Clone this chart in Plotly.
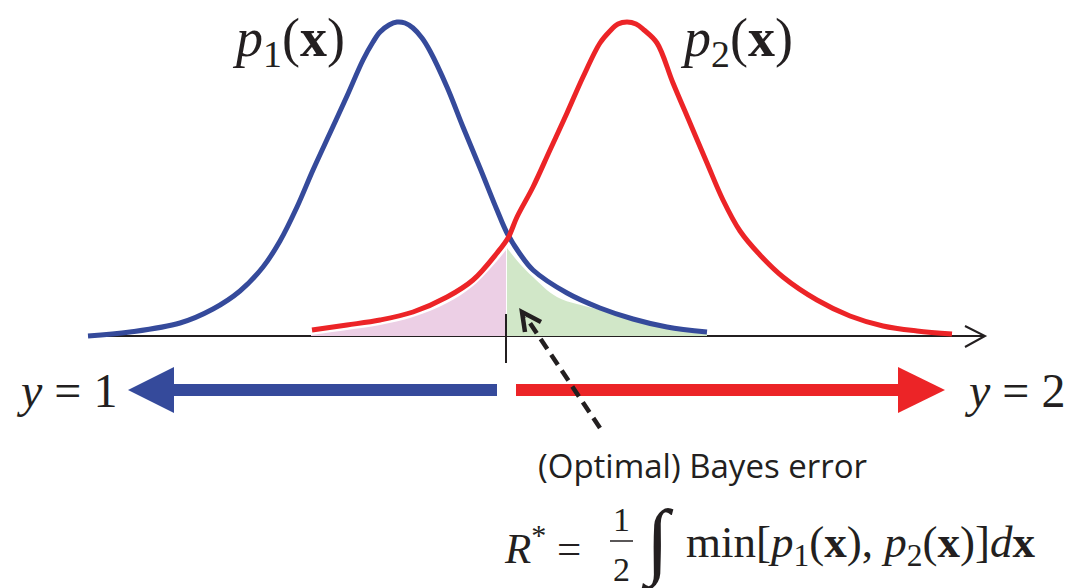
import plotly.graph_objects as go

# Curves: x in px, height above the axis line in px
blue_x = [88, 130, 180, 213, 240, 263, 280, 297, 313, 330, 347, 363, 373, 380, 389, 397,
          405, 413, 422, 430, 447, 463, 480, 497, 507, 520, 533, 567, 600, 633, 667, 707]
blue_h = [0, 4, 13, 27, 45, 69, 95, 129, 166, 203, 240, 276, 294, 304, 311, 314,
          313, 308, 298, 285, 249, 209, 168, 126, 103, 82, 66, 43, 28, 17, 9, 4]

red_x = [312, 347, 380, 413, 447, 473, 497, 508, 517, 533, 550, 567, 583, 600, 610, 618,
         627, 636, 644, 657, 673, 690, 707, 723, 740, 760, 783, 817, 850, 883, 917, 952]
red_h = [6, 11, 16, 24, 39, 56, 83, 98, 119, 149, 186, 223, 259, 293, 305, 312,
         314, 312, 306, 293, 253, 213, 173, 136, 105, 81, 59, 36, 20, 10, 5, 2]

# Shaded error regions (edges sit just under the curves)
pink_x = [311, 347, 380, 413, 447, 473, 497, 506]
pink_h = [1, 6, 11, 19, 33, 50, 75, 86]
green_x = [507, 520, 533, 557, 600, 633, 667, 707]
green_h = [88, 72, 59, 39, 26, 16, 9, 2]

boundary = 506
axis_span = [88, 985]
decision_row = -54

BLUE = "#354A9B"
RED = "#EC2427"
PINK = "#ECCFE5"
GREEN = "#D1E7C8"
INK = "#231F20"
SERIF = "Liberation Serif"
SANS = "Open Sans"

# the page body keeps an 8px margin, so the figure is drawn 8px smaller
# and the ranges start 8px in to keep the picture in place
OFFSET = 8

fig = go.Figure()

fig.add_trace(go.Scatter(x=pink_x, y=pink_h, mode="lines", line=dict(width=0, shape="spline"),
                         fill="tozeroy", fillcolor=PINK, hoverinfo="skip"))
fig.add_trace(go.Scatter(x=green_x, y=green_h, mode="lines", line=dict(width=0, shape="spline"),
                         fill="tozeroy", fillcolor=GREEN, hoverinfo="skip"))
fig.add_trace(go.Scatter(x=blue_x, y=blue_h, mode="lines",
                         line=dict(color=BLUE, width=5, shape="spline", smoothing=1.0)))
fig.add_trace(go.Scatter(x=red_x, y=red_h, mode="lines",
                         line=dict(color=RED, width=5, shape="spline", smoothing=1.0)))

shapes = [
    # x axis with open arrow head
    dict(type="line", x0=axis_span[0], x1=axis_span[1], y0=0, y1=0,
         line=dict(color=INK, width=2), layer="below"),
    dict(type="path", path=f"M {axis_span[1] - 20},10 L {axis_span[1]},0 L {axis_span[1] - 20},-11",
         line=dict(color=INK, width=2)),
    # decision boundary tick
    dict(type="line", x0=boundary, x1=boundary, y0=22, y1=-27, line=dict(color=INK, width=2)),
    # y = 1 arrow
    dict(type="line", x0=boundary - 9, x1=170, y0=decision_row, y1=decision_row,
         line=dict(color=BLUE, width=12)),
    dict(type="path", path=f"M 128,{decision_row} L 174,{decision_row + 23} L 174,{decision_row - 23} Z",
         fillcolor=BLUE, line=dict(width=0)),
    # y = 2 arrow
    dict(type="line", x0=boundary + 10, x1=905, y0=decision_row, y1=decision_row,
         line=dict(color=RED, width=12)),
    dict(type="path", path=f"M 945,{decision_row} L 898,{decision_row + 23} L 898,{decision_row - 23} Z",
         fillcolor=RED, line=dict(width=0)),
    # dashed pointer to the error region
    dict(type="line", x0=600, y0=-92, x1=526, y1=19, line=dict(color=INK, width=4.5, dash="12px,7px")),
    dict(type="path", path="M 541,14 L 522,24 L 525,4", line=dict(color=INK, width=4.5)),
    # fraction bar of 1/2
    dict(type="line", x0=610, x1=633, y0=-205, y1=-205, line=dict(color=INK, width=1.5)),
]


def label(x, y, text, size, font=SERIF, xanchor="center"):
    return dict(x=x, y=y, text=text, showarrow=False, xanchor=xanchor, yanchor="middle",
                font=dict(family=font, size=size, color=INK))


p1 = "<i>p</i><sub>1</sub>(<b>x</b>)"
p2 = "<i>p</i><sub>2</sub>(<b>x</b>)"

annotations = [
    label(288, 295, p1, 54),
    label(736, 295, p2, 54),
    label(66, decision_row, "<i>y</i> = 1", 48),
    label(1014, decision_row, "<i>y</i> = 2", 48),
    label(702, -129, "(Optimal) Bayes error", 33, font=SANS),
    label(542, -209, "<i>R</i><sup>*</sup> =", 43),
    label(621, -183, "1", 34),
    label(621, -233, "2", 34),
    label(657, -206, "∫", 84),
    label(684, -209, f"min[{p1}, {p2}]<i>d</i><b>x</b>", 45, xanchor="left"),
]

fig.update_layout(
    width=1074 - OFFSET,
    height=588 - OFFSET,
    margin=dict(l=0, r=0, t=0, b=0, pad=0),
    paper_bgcolor="white",
    plot_bgcolor="white",
    showlegend=False,
    xaxis=dict(range=[OFFSET, 1074], visible=False, fixedrange=True),
    yaxis=dict(range=[-252, 336 - OFFSET], visible=False, fixedrange=True),
    shapes=shapes,
    annotations=annotations,
)

fig.write_html("out.html")
